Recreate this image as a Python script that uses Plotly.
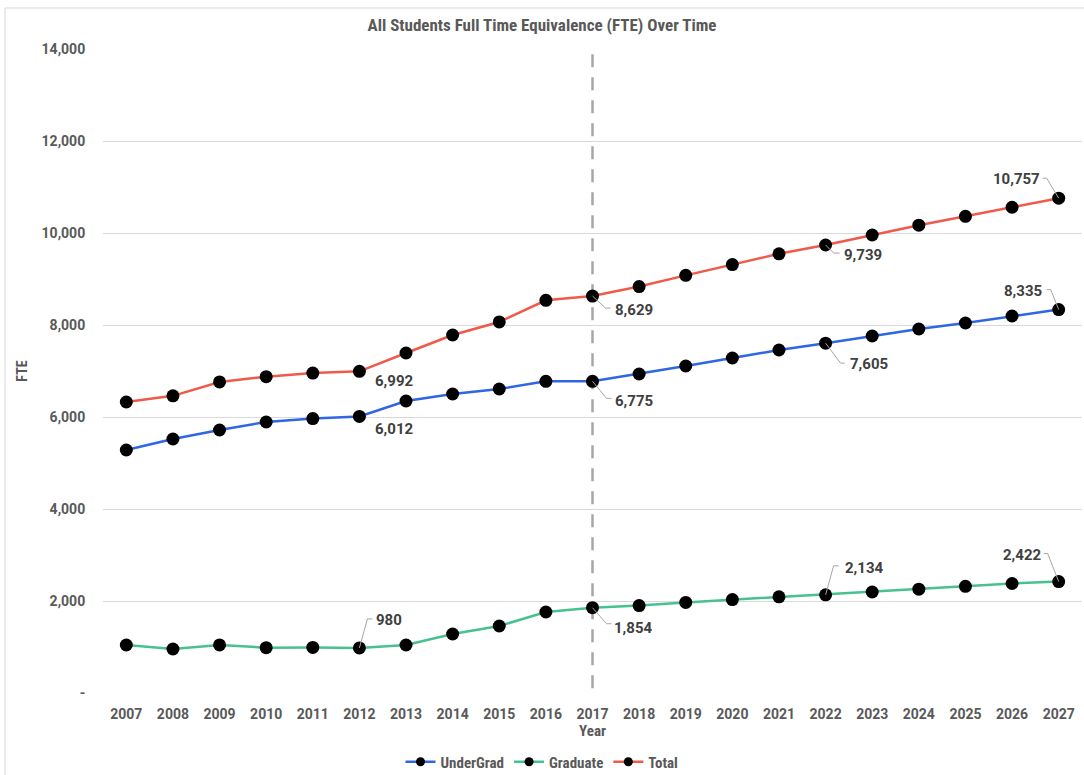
import plotly.graph_objects as go

# Student FTE by year (actuals through 2017, projections after)
years = list(range(2007, 2028))
undergrad = [5283, 5522, 5717, 5891, 5965, 6012, 6348, 6500, 6609, 6775, 6775,
             6935, 7109, 7283, 7457, 7605, 7761, 7913, 8043, 8196, 8335]
graduate = [1043, 957, 1045, 985, 990, 980, 1043, 1283, 1457, 1761, 1854,
            1900, 1970, 2030, 2090, 2134, 2196, 2257, 2320, 2380, 2422]
total = [6326, 6460, 6762, 6876, 6955, 6992, 7391, 7783, 8066, 8536, 8629,
         8835, 9079, 9313, 9547, 9739, 9957, 10170, 10363, 10560, 10757]

series_names = ["UnderGrad", "Graduate", "Total"]
series_colors = ["#2F66E3", "#47C18F", "#EF5A4A"]
y_ticks = [0, 2000, 4000, 6000, 8000, 10000, 12000, 14000]
y_tick_text = ["-", "2,000", "4,000", "6,000", "8,000", "10,000", "12,000", "14,000"]
divider_year = 2017

# labelled points: (series index, year, text offset x, y, anchor, leader path in px)
labels = [
    (2, 2012, 14, -10, "left", None),
    (0, 2012, 14, -13, "left", None),
    (0, 2017, 20, -20, "left", "M0,0 L14,-17 L19,-17"),
    (2, 2017, 20, -14, "left", "M0,0 L13,-12 L18,-12"),
    (2, 2022, 16, -10, "left", "M0,0 L8,-8 L14,-8"),
    (0, 2022, 22, -21, "left", "M0,0 L15,-20 L19,-20"),
    (2, 2027, -17, 19, "right", "M0,0 L-12,20 L-16,20"),
    (0, 2027, -15, 19, "right", "M0,0 L-8,20 L-12,20"),
    (1, 2022, 17, 27, "left", "M0,0 L8,29 L13,29"),
    (1, 2017, 19, -20, "left", "M0,0 L14,-16 L19,-16"),
    (1, 2012, 15, 28, "left", "M0,0 L8,29 L13,29"),
    (1, 2027, -15, 27, "right", "M0,0 L-11,28 L-15,28"),
]

data = [undergrad, graduate, total]
label_font = dict(family="Roboto", size=15, color="#404040")
cond_font = "Roboto Condensed, Liberation Sans Narrow, DejaVu Sans Condensed, Roboto"
tick_font = dict(family="Roboto", size=14, color="#595959", weight="bold")

fig = go.Figure()
for name, vals, color in zip(series_names, data, series_colors):
    fig.add_trace(go.Scatter(
        x=years, y=vals, name=name, mode="lines+markers",
        line=dict(color=color, width=2.5),
        marker=dict(color="black", size=13),
        hoverinfo="skip", showlegend=False, legendgroup=name,
    ))
# legend entries with smaller symbols
for name, color in zip(series_names, series_colors):
    fig.add_trace(go.Scatter(
        x=[None], y=[None], name=name, mode="lines+markers",
        line=dict(color=color, width=2.5),
        marker=dict(color="black", size=9),
        hoverinfo="skip", showlegend=True, legendgroup=name,
    ))

shapes = [
    # dashed divider between actuals and projections
    dict(type="line", xref="x", yref="paper", x0=divider_year, x1=divider_year,
         y0=0.992, y1=0, line=dict(color="#A6A6A6", width=2.5, dash="13px,10px"),
         layer="below"),
    # outer frame (top and left edges)
    dict(type="line", xref="paper", yref="paper", x0=-0.1001, x1=1.01,
         y0=1.0637, y1=1.0637, line=dict(color="#D9D9D9", width=1)),
    dict(type="line", xref="paper", yref="paper", x0=-0.1001, x1=-0.1001,
         y0=-0.2, y1=1.0637, line=dict(color="#D9D9D9", width=1)),
]
annotations = []
for si, yr, dx, dy, anchor, path in labels:
    val = data[si][years.index(yr)]
    annotations.append(dict(
        x=yr, y=val, xref="x", yref="y", text=f"<b>{val:,}</b>",
        showarrow=False, xanchor=anchor, yanchor="middle",
        xshift=dx, yshift=dy, font=label_font,
    ))
    if path:
        shapes.append(dict(
            type="path", xref="x", yref="y", xsizemode="pixel", ysizemode="pixel",
            xanchor=yr, yanchor=val, path=path,
            line=dict(color="#A6A6A6", width=1),
        ))

fig.update_layout(
    width=1084, height=775,
    margin=dict(l=103, r=2, t=49, b=82),
    paper_bgcolor="white", plot_bgcolor="white",
    title=dict(text="<b>All Students Full Time Equivalence (FTE) Over Time</b>",
               x=0.5, xref="container", y=1 - 25 / 775, yanchor="middle",
               font=dict(family=cond_font, size=17, color="#595959")),
    xaxis=dict(
        range=[2006.5, 2027.5], tickmode="array", tickvals=years,
        showgrid=False, zeroline=False, showline=False,
        ticks="outside", ticklen=8, tickcolor="rgba(0,0,0,0)",
        tickfont=tick_font,
        title=dict(text="<b>Year</b>", standoff=4,
                   font=dict(family=cond_font, size=15, color="#595959")),
    ),
    yaxis=dict(
        range=[0, 14000], tickmode="array", tickvals=y_ticks, ticktext=y_tick_text,
        showgrid=True, gridcolor="#D9D9D9", gridwidth=1, zeroline=False,
        showline=False,
        ticks="outside", ticklen=14, tickcolor="rgba(0,0,0,0)",
        tickfont=tick_font,
        title=dict(text="<b>FTE</b>", standoff=10,
                   font=dict(family=cond_font, size=14, color="#595959")),
    ),
    legend=dict(orientation="h", x=0.5, xanchor="center", xref="container",
                y=13 / 775, yref="container", yanchor="middle",
                font=dict(family=cond_font, size=15, color="#595959", weight="bold"),
                itemwidth=30, tracegroupgap=0),
    shapes=shapes,
    annotations=annotations,
    showlegend=True,
)

fig.write_html("out.html")
